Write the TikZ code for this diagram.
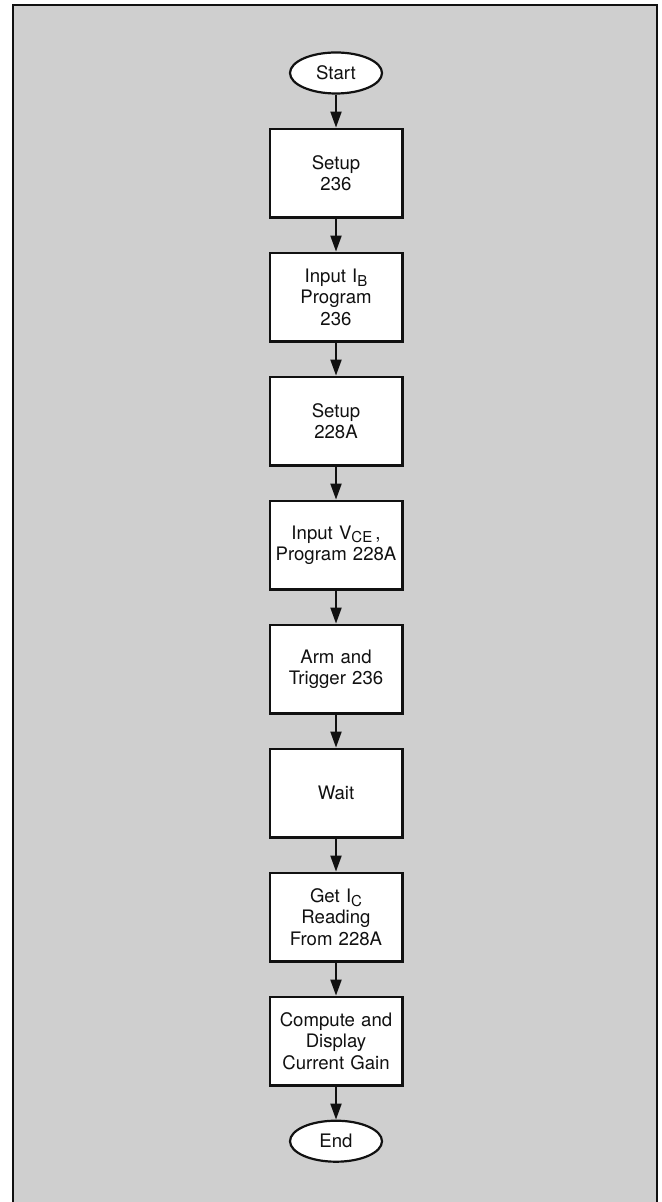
\documentclass[tikz,border=0pt]{standalone}
\usepackage{fontspec}
\setmainfont{TeX Gyre Heros}
\usetikzlibrary{arrows.meta, positioning, shapes.geometric}
\definecolor{ink}{HTML}{111111}
\definecolor{screen}{HTML}{CFCFCF}
\newcommand{\lowsub}[1]{\raisebox{-0.4ex}{\fontsize{7.5}{8}\selectfont #1}}
\tikzset{
  stepbox/.style={draw=ink, fill=white, line width=1.1pt, align=center,
                  text width=64pt, minimum width=66.4pt, minimum height=44.4pt,
                  inner sep=1pt, font=\fontsize{9.3}{10.8}\selectfont, text=ink},
  term/.style={ellipse, draw=ink, fill=white, line width=1.1pt,
               minimum width=46pt, minimum height=20.5pt, inner sep=1pt,
               font=\fontsize{9.3}{10.8}\selectfont, text=ink},
  fl/.style={-{Triangle[length=8pt, width=5.5pt]}, line width=1pt, draw=ink},
}

\begin{document}
\begin{tikzpicture}[node distance=16.5pt]
  \useasboundingbox (0,0) rectangle (331pt,-601pt);
  \fill[screen] (6.5pt,-2.5pt) rectangle (328.5pt,-601pt);
  \draw[ink, line width=1pt] (6.5pt,-601pt) -- (6.5pt,-2.5pt) -- (328.5pt,-2.5pt) -- (328.5pt,-601pt);

  \node[term] (start) at (168pt,-36.5pt) {Start};
  \node[stepbox, below=of start] (setb) {Setup\\236};
  \node[stepbox, below=of setb] (progb) {Input I\lowsub{B}\\Program\\236};
  \node[stepbox, below=of progb] (setm) {Setup\\228A};
  \node[stepbox, below=of setm] (progm) {Input V\lowsub{CE}\,,\\Program 228A};
  \node[stepbox, below=of progm] (arm) {Arm and\\Trigger 236};
  \node[stepbox, below=of arm] (wait) {Wait};
  \node[stepbox, below=of wait] (read) {Get I\lowsub{C}\\Reading\\From 228A};
  \node[stepbox, below=of read] (gain) {Compute and\\Display\\Current Gain};
  \node[term, below=of gain] (end) {End};

  \draw[fl] (start) -- (setb);
  \draw[fl] (setb) -- (progb);
  \draw[fl] (progb) -- (setm);
  \draw[fl] (setm) -- (progm);
  \draw[fl] (progm) -- (arm);
  \draw[fl] (arm) -- (wait);
  \draw[fl] (wait) -- (read);
  \draw[fl] (read) -- (gain);
  \draw[fl] (gain) -- (end);
\end{tikzpicture}
\end{document}
